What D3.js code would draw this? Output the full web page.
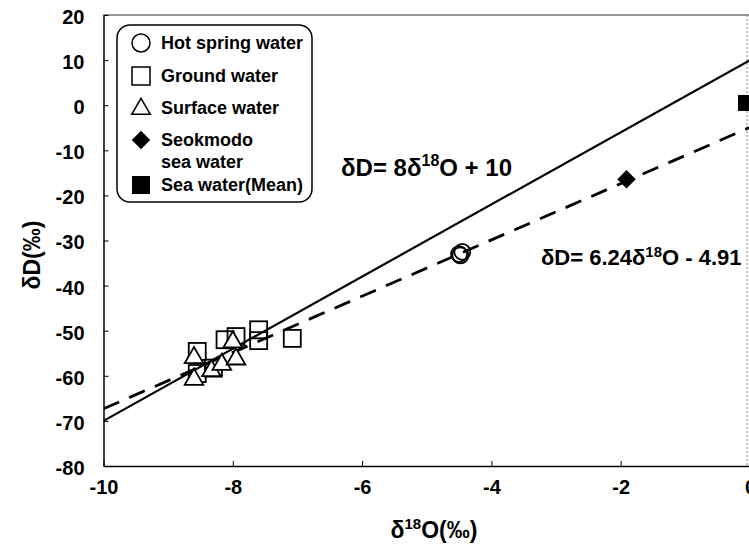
<!DOCTYPE html>
<html>
<head>
<meta charset="utf-8">
<script src="https://cdn.jsdelivr.net/npm/d3@7"></script>
<style>
  body { margin: 0; background: #fff; }
  svg text { font-family: "Liberation Sans", Arial, sans-serif; font-weight: bold; fill: #000; }
</style>
</head>
<body>
<svg id="chart" width="749" height="545"></svg>
<script>
// data
const hotSpring = [[-4.5, -33.0], [-4.45, -32.5], [-4.48, -33.3]];
const groundWater = [[-8.55, -54.6], [-8.55, -59.5], [-8.12, -52.0], [-7.95, -51.3],
  [-7.6, -49.8], [-7.6, -52.2], [-7.08, -51.7], [-8.3, -58.3]];
const surfaceWater = [[-8.6, -56.0], [-8.6, -60.8], [-8.33, -58.9], [-8.17, -57.5],
  [-7.95, -56.3], [-8.0, -52.5]];
const seokmodo = [[-1.91, -16.4]];
const seaMean = [[0, 0.5]];

const xTicks = [-10, -8, -6, -4, -2, 0];
const yTicks = [20, 10, 0, -10, -20, -30, -40, -50, -60, -70, -80];

// meteoric water line and local fit
const gmwl = { slope: 8, intercept: 10 };
const lmwl = { slope: 6.24, intercept: -4.91 };

const svg = d3.select("#chart");
const x = d3.scaleLinear().domain([-10, 0]).range([103.5, 750]);
const y = d3.scaleLinear().domain([-80, 20]).range([466, 15]);

svg.append("defs").append("clipPath").attr("id", "plotclip")
  .append("rect").attr("x", x(-10)).attr("y", y(20)).attr("width", x(0) - x(-10)).attr("height", y(-80) - y(20));

// frame: top solid, right dotted
svg.append("line").attr("x1", x(-10)).attr("x2", x(0)).attr("y1", y(20)).attr("y2", y(20))
  .attr("stroke", "#333").attr("stroke-width", 1.2);
svg.append("line").attr("x1", 747).attr("x2", 747).attr("y1", y(20)).attr("y2", y(-80))
  .attr("stroke", "#888").attr("stroke-width", 1).attr("stroke-dasharray", "2,2");

// axes with inward ticks, plain hyphen minus signs
const fmt = d => String(d);
const xAxis = svg.append("g").attr("transform", `translate(0,${y(-80)})`)
  .call(d3.axisBottom(x).tickValues(xTicks).tickFormat(fmt).tickSizeInner(-5).tickSizeOuter(0).tickPadding(14));
const yAxis = svg.append("g").attr("transform", `translate(${x(-10)},0)`)
  .call(d3.axisLeft(y).tickValues(yTicks).tickFormat(fmt).tickSizeInner(-5).tickSizeOuter(0).tickPadding(19));
[xAxis, yAxis].forEach(a => {
  a.select(".domain").attr("stroke", "#000").attr("stroke-width", 1.5);
  a.selectAll(".tick line").attr("stroke", "#000").attr("stroke-width", 1);
  a.selectAll("text").style("font-size", "20px").style("font-weight", "bold")
    .style("font-family", '"Liberation Sans", Arial, sans-serif').attr("fill", "#000");
});
yAxis.selectAll("text").attr("dy", "0.42em");
xAxis.selectAll(".tick text").attr("x", 0);

// axis titles
svg.append("text").attr("x", 434).attr("y", 538).attr("text-anchor", "middle")
  .style("font-size", "23px")
  .html('δ<tspan dy="-9" font-size="15px">18</tspan><tspan dy="9">O(‰)</tspan>');
svg.append("text").attr("transform", "translate(40,255) rotate(-90)").attr("text-anchor", "middle")
  .style("font-size", "23px").text("δD(‰)");

// regression lines
const plot = svg.append("g").attr("clip-path", "url(#plotclip)");
const lineGen = d3.line().x(d => x(d[0])).y(d => y(d[1]));
const ends = [-10, 0.2];
plot.append("path")
  .attr("d", lineGen(ends.map(v => [v, gmwl.slope * v + gmwl.intercept])))
  .attr("fill", "none").attr("stroke", "#000").attr("stroke-width", 2.2);
plot.append("path")
  .attr("d", lineGen(ends.map(v => [v, lmwl.slope * v + lmwl.intercept])))
  .attr("fill", "none").attr("stroke", "#000").attr("stroke-width", 2.8)
  .attr("stroke-dasharray", "17,11");

// markers
const S = 17;
const tri = d3.symbol().type(d3.symbolTriangle).size(150);
plot.selectAll(".gw").data(groundWater).join("rect")
  .attr("x", d => x(d[0]) - S / 2).attr("y", d => y(d[1]) - S / 2)
  .attr("width", S).attr("height", S)
  .attr("fill", "none").attr("stroke", "#000").attr("stroke-width", 1.8);
plot.selectAll(".sw").data(surfaceWater).join("path")
  .attr("transform", d => `translate(${x(d[0])},${y(d[1])})`)
  .attr("d", tri).attr("fill", "#fff").attr("stroke", "#000").attr("stroke-width", 1.8);
plot.selectAll(".hs").data(hotSpring).join("circle")
  .attr("cx", d => x(d[0])).attr("cy", d => y(d[1])).attr("r", 8)
  .attr("fill", "none").attr("stroke", "#000").attr("stroke-width", 1.8);
plot.selectAll(".sk").data(seokmodo).join("path")
  .attr("transform", d => `translate(${x(d[0])},${y(d[1])}) rotate(45)`)
  .attr("d", d3.symbol().type(d3.symbolSquare).size(170)).attr("fill", "#000");
plot.selectAll(".sm").data(seaMean).join("rect")
  .attr("x", d => x(d[0]) - 12).attr("y", d => y(d[1]) - 8)
  .attr("width", 16).attr("height", 16).attr("fill", "#000");

// equations
svg.append("text").attr("x", 341).attr("y", 176).style("font-size", "24px")
  .html('δD= 8δ<tspan dy="-10" font-size="16px">18</tspan><tspan dy="10">O + 10</tspan>');
svg.append("text").attr("x", 541).attr("y", 265).style("font-size", "22px")
  .html('δD= 6.24δ<tspan dy="-8" font-size="15px">18</tspan><tspan dy="8">O - 4.91</tspan>');

// legend
const lg = svg.append("g");
lg.append("rect").attr("x", 117).attr("y", 25).attr("width", 195).attr("height", 177)
  .attr("rx", 13).attr("fill", "#fff").attr("stroke", "#000").attr("stroke-width", 1.5);
const legendItems = [
  { label: ["Hot spring water"], y: 43, kind: "circle" },
  { label: ["Ground water"], y: 76, kind: "square" },
  { label: ["Surface water"], y: 108, kind: "triangle" },
  { label: ["Seokmodo", "sea water"], y: 140, kind: "diamond" },
  { label: ["Sea water(Mean)"], y: 185, kind: "filled" }
];
legendItems.forEach(it => {
  const cx = 141;
  if (it.kind === "circle") {
    lg.append("circle").attr("cx", cx).attr("cy", it.y).attr("r", 9)
      .attr("fill", "none").attr("stroke", "#000").attr("stroke-width", 1.5);
  } else if (it.kind === "square") {
    lg.append("rect").attr("x", cx - 9).attr("y", it.y - 9).attr("width", 18).attr("height", 18)
      .attr("fill", "none").attr("stroke", "#000").attr("stroke-width", 1.5);
  } else if (it.kind === "triangle") {
    lg.append("path").attr("transform", `translate(${cx},${it.y + 1})`)
      .attr("d", tri).attr("fill", "none").attr("stroke", "#000").attr("stroke-width", 1.5);
  } else if (it.kind === "diamond") {
    lg.append("path").attr("transform", `translate(${cx},${it.y}) rotate(45)`)
      .attr("d", d3.symbol().type(d3.symbolSquare).size(170)).attr("fill", "#000");
  } else {
    lg.append("rect").attr("x", cx - 9).attr("y", it.y - 9).attr("width", 18).attr("height", 18)
      .attr("fill", "#000");
  }
  it.label.forEach((t, i) => {
    lg.append("text").attr("x", 161).attr("y", it.y + 6 + i * 22)
      .style("font-size", "18px").text(t);
  });
});
</script>
</body>
</html>
